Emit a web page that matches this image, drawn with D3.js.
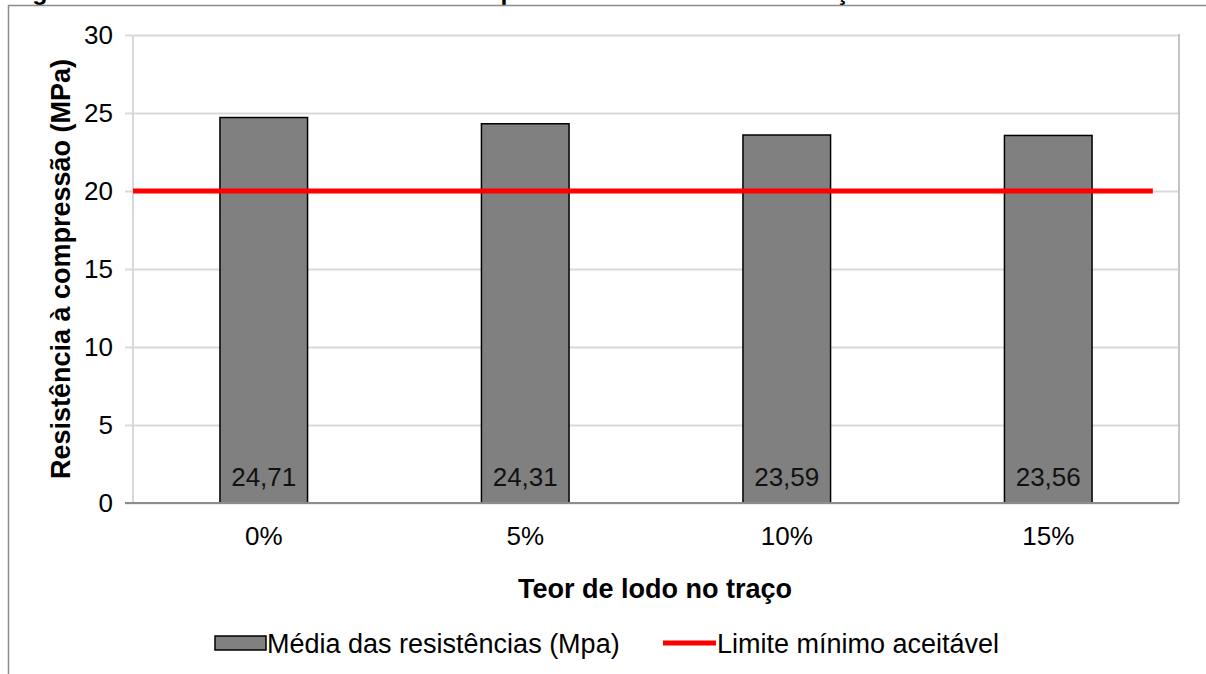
<!DOCTYPE html>
<html>
<head>
<meta charset="utf-8">
<script src="https://cdn.jsdelivr.net/npm/d3@7"></script>
<style>
  html, body { margin: 0; padding: 0; background: #fff; }
  svg { display: block; font-family: "Liberation Sans", Arial, sans-serif; }
</style>
</head>
<body>
<svg id="chart" width="1206" height="674"></svg>
<script>
// Mean compressive strength by sludge content
const categories = ["0%", "5%", "10%", "15%"];
const meanStrength = [24.71, 24.31, 23.59, 23.56];
const valueLabels = ["24,71", "24,31", "23,59", "23,56"];
const limitValue = [20, 20];
const limitSpan = [-0.5, 3.4];          // in category units
const yTicks = [0, 5, 10, 15, 20, 25, 30];

const captionText = "Figura 12 – Média das resistências à compressão do concreto em função do teor de lodo";
const xTitle = "Teor de lodo no traço";
const yTitle = "Resistência à compressão (MPa)";
const legendBar = "Média das resistências (Mpa)";
const legendLine = "Limite mínimo aceitável";

const FS = 26;      // tick and value labels
const FT = 27;      // titles and legend
const svg = d3.select("#chart");
const plot = { left: 133, right: 1179, top: 35, bottom: 503 };

// caption above the frame (runs off the page top)
svg.append("text")
  .attr("x", 10).attr("y", 0)
  .attr("font-size", 25).attr("font-weight", "bold").attr("fill", "#000")
  .text(captionText);

// outer chart frame
svg.append("path")
  .attr("d", "M8.5,674 L8.5,5.5 L1206,5.5")
  .attr("fill", "none").attr("stroke", "#8c8c8c").attr("stroke-width", 1.5);

const x = d3.scaleBand().domain(categories).range([plot.left, plot.right]).paddingInner(0).paddingOuter(0);
const xLin = d3.scaleLinear().domain([-0.5, categories.length - 0.5]).range([plot.left, plot.right]);
const y = d3.scaleLinear().domain([0, 30]).range([plot.bottom, plot.top]);

// gridlines + tick marks
const yAxis = d3.axisLeft(y).tickValues(yTicks).tickSize(-(plot.right - plot.left + 8)).tickFormat(d => d).tickPadding(12);
const gy = svg.append("g").attr("transform", `translate(${plot.left - 8},0)`).call(yAxis);
gy.select(".domain").remove();
gy.selectAll(".tick line").attr("stroke", "#d9d9d9").attr("stroke-width", 2);
gy.selectAll(".tick text").attr("font-size", FS).attr("fill", "#000")
  .attr("font-family", "'Liberation Sans', Arial, sans-serif");

// plot border: left and right lines
svg.append("line").attr("x1", plot.left).attr("x2", plot.left).attr("y1", plot.top).attr("y2", plot.bottom)
  .attr("stroke", "#d9d9d9").attr("stroke-width", 2);
svg.append("line").attr("x1", plot.right).attr("x2", plot.right).attr("y1", plot.top - 1).attr("y2", plot.bottom)
  .attr("stroke", "#c4c4c4").attr("stroke-width", 2);

// bars
const barW = x.bandwidth() * 0.335;
svg.append("g").selectAll("rect").data(meanStrength).join("rect")
  .attr("x", (d, i) => x(categories[i]) + x.bandwidth() / 2 - barW / 2)
  .attr("y", d => y(d))
  .attr("width", barW)
  .attr("height", d => y(0) - y(d))
  .attr("fill", "#808080").attr("stroke", "#000").attr("stroke-width", 1.5);

// value labels inside bars
svg.append("g").selectAll("text").data(valueLabels).join("text")
  .attr("x", (d, i) => x(categories[i]) + x.bandwidth() / 2)
  .attr("y", y(0) - 17)
  .attr("text-anchor", "middle").attr("font-size", FS).attr("fill", "#111")
  .text(d => d);

// baseline (x axis)
svg.append("line").attr("x1", plot.left - 8).attr("x2", plot.right).attr("y1", plot.bottom).attr("y2", plot.bottom)
  .attr("stroke", "#8c8c8c").attr("stroke-width", 2);

// x category labels
svg.append("g").selectAll("text").data(categories).join("text")
  .attr("x", d => x(d) + x.bandwidth() / 2)
  .attr("y", 545)
  .attr("text-anchor", "middle").attr("font-size", FS).attr("fill", "#000")
  .text(d => d);

// minimum limit line
const limitLine = d3.line().x(d => xLin(d[0])).y(d => y(d[1]));
svg.append("path")
  .datum(limitSpan.map((s, i) => [s, limitValue[i]]))
  .attr("d", limitLine)
  .attr("fill", "none").attr("stroke", "#ff0000").attr("stroke-width", 5);

// axis titles
svg.append("text").attr("x", (plot.left + plot.right) / 2 - 1).attr("y", 598)
  .attr("text-anchor", "middle").attr("font-size", FT).attr("font-weight", "bold").text(xTitle);
svg.append("text")
  .attr("transform", `translate(70,${(plot.top + plot.bottom) / 2}) rotate(-90)`)
  .attr("text-anchor", "middle").attr("font-size", FT).attr("font-weight", "bold").text(yTitle);

// legend
const lg = svg.append("g");
lg.append("rect").attr("x", 215).attr("y", 636).attr("width", 51).attr("height", 14)
  .attr("fill", "#808080").attr("stroke", "#000").attr("stroke-width", 1.5);
lg.append("text").attr("x", 267).attr("y", 653).attr("font-size", FT).text(legendBar);
lg.append("line").attr("x1", 663).attr("x2", 716).attr("y1", 643).attr("y2", 643)
  .attr("stroke", "#ff0000").attr("stroke-width", 5);
lg.append("text").attr("x", 717).attr("y", 653).attr("font-size", FT).text(legendLine);
</script>
</body>
</html>
